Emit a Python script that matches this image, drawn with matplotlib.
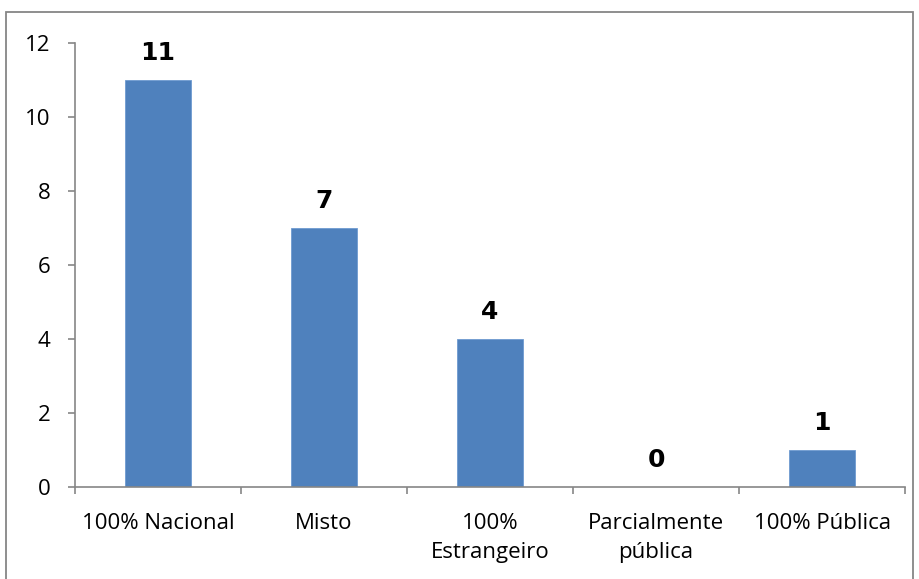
import numpy as np
import matplotlib
matplotlib.use("Agg")
import matplotlib.pyplot as plt
from matplotlib.patches import Rectangle

categorias = ["100% Nacional", "Misto", "100%\nEstrangeiro", "Parcialmente\npública", "100% Pública"]
valores = [11, 7, 4, 0, 1]
yticks = [0, 2, 4, 6, 8, 10, 12]

cinza = "#868686"
azul = "#4F81BD"

fig = plt.figure(figsize=(9.19, 5.79), dpi=100)
ax = fig.add_axes([0.0816, 0.159, 0.9034, 0.7667])

# moldura em volta do gráfico
fig.patches.append(Rectangle((0.0065, -0.01), 0.987, 0.989, transform=fig.transFigure,
                             fill=False, edgecolor=cinza, linewidth=1.3))

x = np.arange(len(valores))
ax.bar(x, valores, width=0.4, color=azul, edgecolor="#6f9ad0", linewidth=0.6, zorder=2)

for xi, v in zip(x, valores):
    ax.annotate(str(v), (xi, v), xytext=(0, 14.5), textcoords="offset points",
                ha="center", va="baseline", fontsize=18, fontweight="heavy",
                family="DejaVu Sans", color="black")

ax.set_xlim(-0.5, len(valores) - 0.5)
ax.set_ylim(0, 12)
ax.set_yticks(yticks)
ax.set_yticklabels([str(t) for t in yticks], fontsize=16, family="Open Sans")

# ticks nas divisões entre categorias, rótulos no centro
ax.set_xticks(np.arange(-0.5, len(valores)), minor=False)
ax.set_xticklabels([""] * (len(valores) + 1))
ax.set_xticks(x, minor=True)
ax.set_xticklabels(categorias, minor=True, fontsize=16, family="Open Sans",
                   linespacing=1.45)
ax.tick_params(axis="x", which="minor", length=0, pad=19)
ax.tick_params(axis="x", which="major", length=5, width=1.2, color=cinza, direction="out")
ax.tick_params(axis="y", length=5, width=1.2, color=cinza, direction="out", pad=12.5)

for s in ["top", "right"]:
    ax.spines[s].set_visible(False)
for s in ["left", "bottom"]:
    ax.spines[s].set_color(cinza)
    ax.spines[s].set_linewidth(1.2)

fig.savefig("out.png", dpi=100)
